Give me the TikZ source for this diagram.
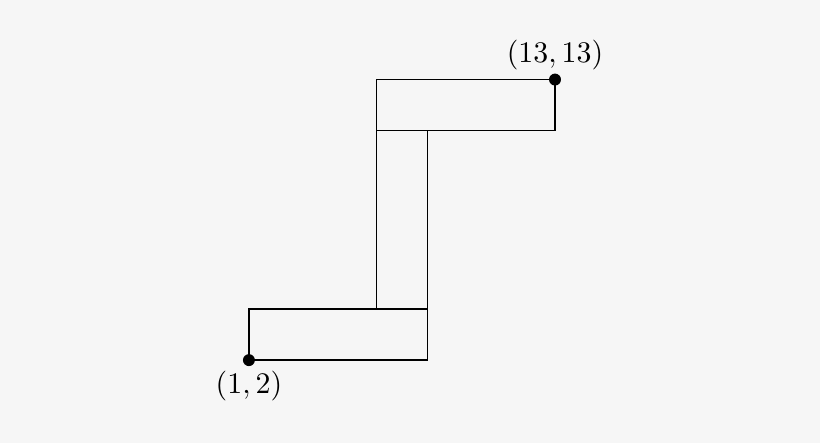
\documentclass[tikz,border=0pt]{standalone}
\begin{document}
\begin{tikzpicture}[x=0.3cm,y=0.3cm,
  blk/.style={draw=black,line width=0.5pt},
  pt/.style={circle,fill=black,inner sep=0pt,minimum size=4pt}]
\fill[gray!7] (-8.76,-1.25) rectangle (23.39,16.12);
\useasboundingbox (-8.76,-1.25) rectangle (23.39,16.12);
\draw[blk] (1,2) rectangle (8,4);
\draw[blk] (6,4) rectangle (8,11);
\draw[blk] (6,11) rectangle (13,13);
\node[pt] (a) at (1,2) {};
\node[pt] (b) at (13,13) {};
\node[below=-2pt] (la) at (a.south) {$(1,2)$};
\node[above=-2.5pt] (lb) at (b.north) {$(13,13)$};
\end{tikzpicture}
\end{document}
